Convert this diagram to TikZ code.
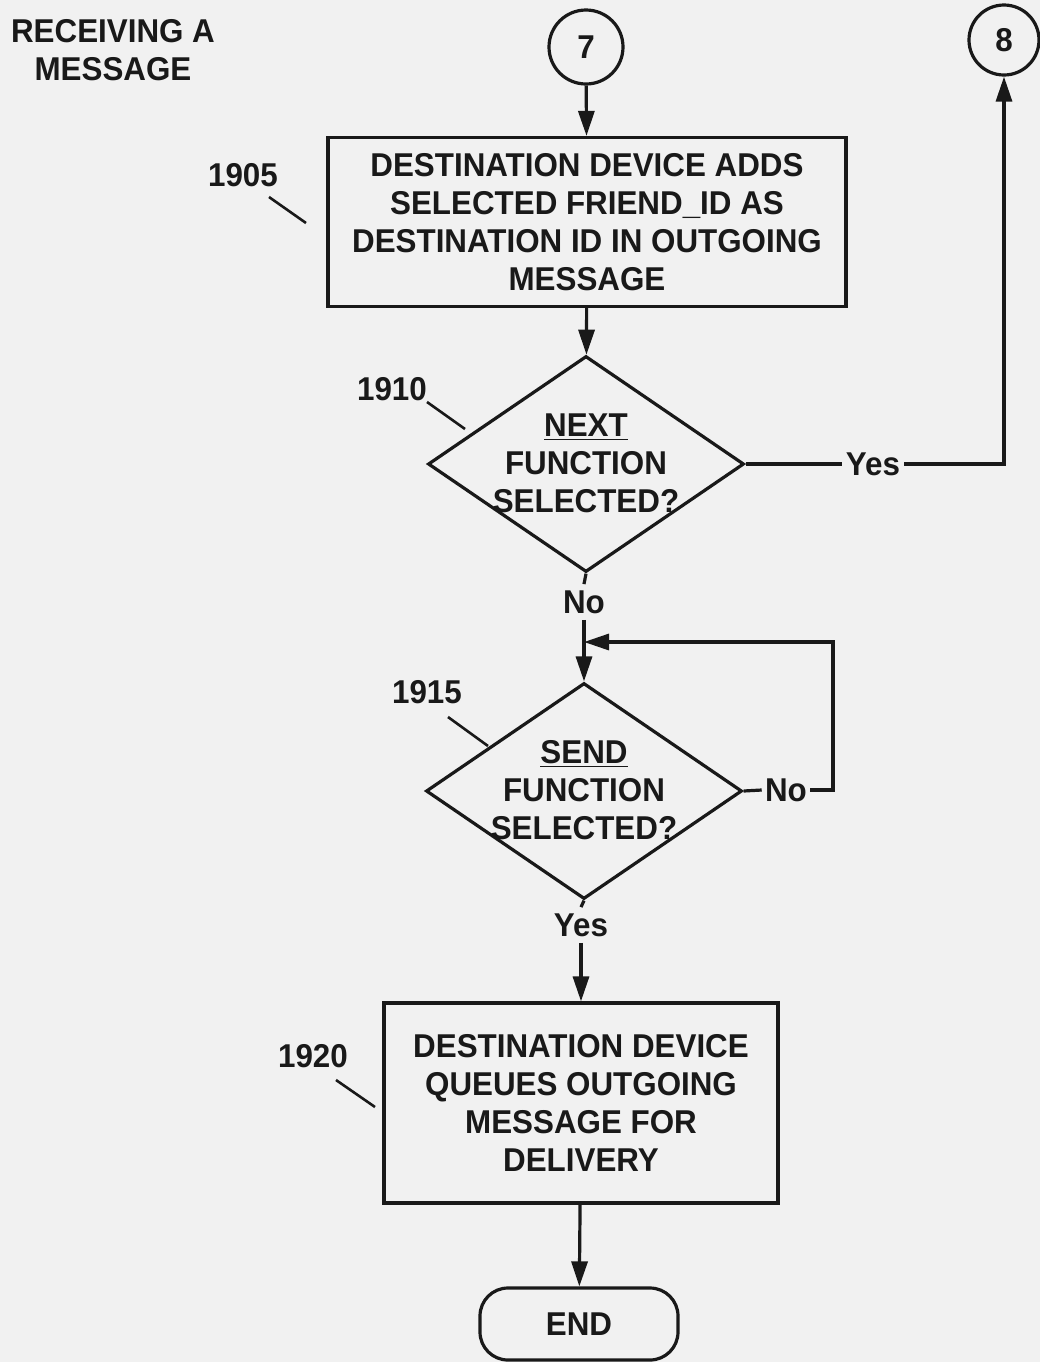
\documentclass[tikz,border=0pt]{standalone}
\usepackage{fontspec}
\setmainfont{Liberation Sans}[BoldFont={Liberation Sans Bold},BoldFeatures={FakeStretch=0.95}]
\usetikzlibrary{shapes.geometric,arrows.meta}
\definecolor{bg}{RGB}{241,241,241}
\definecolor{ink}{RGB}{25,25,25}
\begin{document}
\begin{tikzpicture}[x=0.5pt,y=-0.5pt,
  every node/.style={font=\fontsize{16.5}{19}\selectfont\bfseries, text=ink},
  line/.style={draw=ink,line width=1.6pt},
  arr/.style={draw=ink,line width=1.6pt,-{Triangle[length=12.5pt,width=8pt]}},
  proc/.style={draw=ink,line width=1.6pt,align=center,inner sep=0pt},
  dia/.style={draw=ink,diamond,line width=1.6pt,inner sep=0pt,minimum width=158pt,minimum height=108pt},
  conn/.style={draw=ink,circle,line width=1.6pt,inner sep=0pt},
  dtext/.style={align=center,inner sep=0pt},
  lbl/.style={inner sep=2pt},
  lead/.style={draw=ink,line width=1.3pt},
]
\path[fill=bg,use as bounding box] (0,0) rectangle (1040,1362);

% title
\node[align=center] (title) at (113,50) {RECEIVING A\\MESSAGE};

% connectors
\node[conn,minimum size=37pt] (c7) at (586,47) {7};
\node[conn,minimum size=35pt] (c8) at (1004,40) {8};

% box 1905
\node[proc,minimum width=259pt,minimum height=84.5pt] (b1) at (587,222)
  {DESTINATION DEVICE ADDS\\SELECTED FRIEND\_ID AS\\DESTINATION ID IN OUTGOING\\MESSAGE};
\node[lbl] (l1905) at (243,175) {1905};
\coordinate (l1905a) at (269,197);
\coordinate (l1905b) at (306,223);
\draw[lead] (l1905a) -- (l1905b);

% diamond 1910
\node[dia] (d1) at (586,464) {};
\node[dtext] (d1t) at (586,463) {\underline{NEXT}\\FUNCTION\\SELECTED?};
\node[lbl] (l1910) at (392,389) {1910};
\coordinate (l1910a) at (427,402);
\coordinate (l1910b) at (465,429);
\draw[lead] (l1910a) -- (l1910b);

\node[lbl] (yes1) at (873,464) {Yes};
\node[lbl,inner sep=3pt] (no1) at (584,602) {No};

% diamond 1915
\node[dia] (d2) at (584,791) {};
\node[dtext] (d2t) at (584,790) {\underline{SEND}\\FUNCTION\\SELECTED?};
\node[lbl] (l1915) at (427,692) {1915};
\coordinate (l1915a) at (448,717);
\coordinate (l1915b) at (488,746);
\draw[lead] (l1915a) -- (l1915b);

\node[lbl,inner sep=1.5pt] (no2) at (786,790) {No};
\coordinate (lp) at (833,642);
\coordinate (j) at (584,642);

\node[lbl,inner sep=3pt] (yes2) at (581,925) {Yes};

% box 1920
\node[proc,minimum width=197pt,minimum height=100pt] (b2) at (581,1103)
  {DESTINATION DEVICE\\QUEUES OUTGOING\\MESSAGE FOR\\DELIVERY};
\node[lbl] (l1920) at (313,1056) {1920};
\coordinate (l1920a) at (336,1080);
\coordinate (l1920b) at (375,1107);
\draw[lead] (l1920a) -- (l1920b);

% end
\node[draw=ink,line width=1.6pt,rounded corners=14pt,minimum width=99pt,minimum height=36pt] (end) at (579,1324) {END};

% flow
\draw[arr] (c7) -- (b1);
\draw[arr] (b1) -- (d1);
\draw[line] (d1.east) -- (yes1.west);
\draw[arr] (yes1.east) -| (c8.south);
\draw[line] (d1.south) -- (no1.north);
\draw[arr] (no1.south) -- (d2.north);
\draw[line] (d2.east) -- (no2.west);
\draw[arr] (no2.east) -| (lp) -- (j);
\draw[line] (d2.south) -- (yes2.north);
\draw[arr] (yes2.south) -- (b2.north);
\draw[arr] (b2) -- (end);
\end{tikzpicture}
\end{document}
